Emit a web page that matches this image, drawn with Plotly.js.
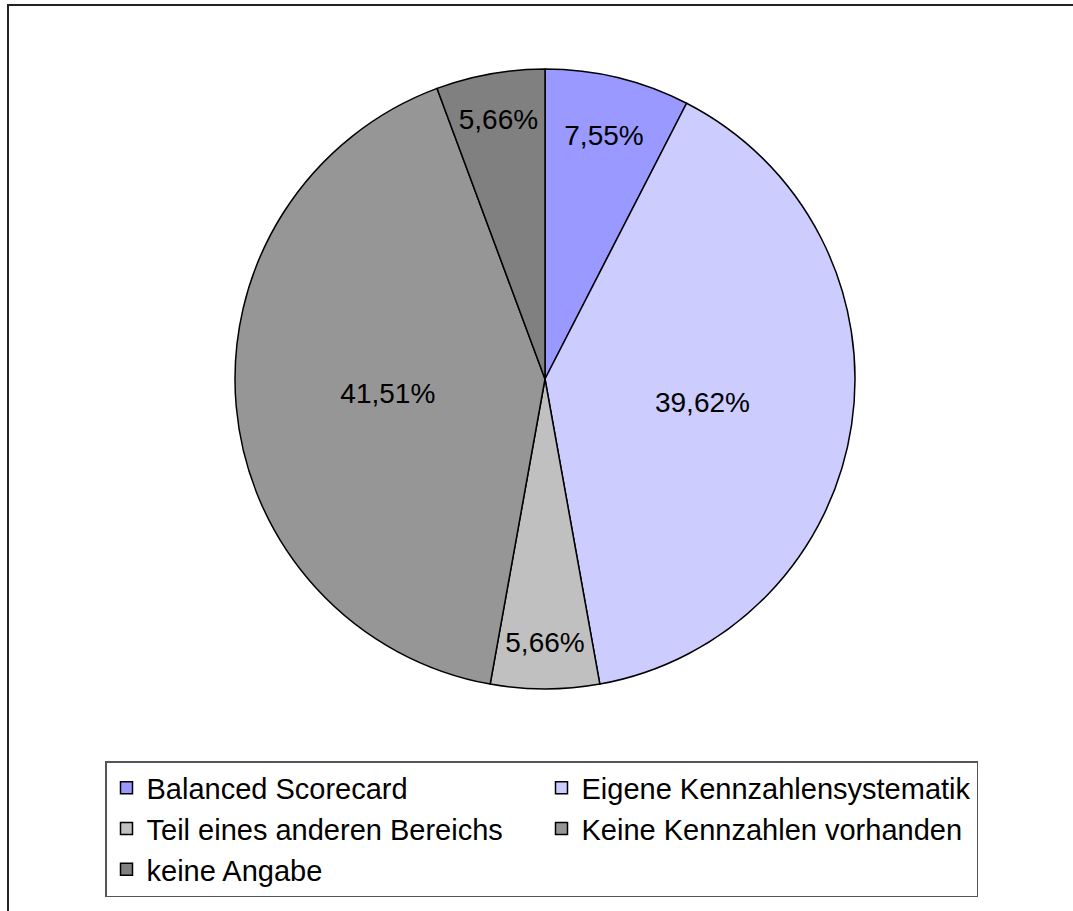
<!DOCTYPE html>
<html>
<head>
<meta charset="utf-8">
<script src="https://cdn.plot.ly/plotly-3.0.1.min.js"></script>
<style>
html,body{margin:0;padding:0;background:#fff;}
#chart{width:1073px;height:911px;}
</style>
</head>
<body>
<div id="chart"></div>
<script>
const categories = ["Balanced Scorecard", "Eigene Kennzahlensystematik", "Teil eines anderen Bereichs", "Keine Kennzahlen vorhanden", "keine Angabe"];
const shares = [7.55, 39.62, 5.66, 41.51, 5.66];
const colors = ["#9999FF", "#CCCCFF", "#C0C0C0", "#969696", "#808080"];

const W = 1073, H = 911;
const cx = 545, cy = 379, R = 310;

const trace = {
  type: "pie",
  labels: categories,
  values: shares,
  sort: false,
  direction: "clockwise",
  rotation: 0,
  marker: {colors: colors, line: {color: "#000", width: 1.5}},
  textinfo: "percent",
  texttemplate: "%{percent:.2%}",
  textposition: "inside",
  insidetextorientation: "horizontal",
  textfont: {family: "Liberation Sans, Arial, sans-serif", size: 28, color: "#000"},
  hoverinfo: "none",
  domain: {x: [(cx - R) / W, (cx + R) / W], y: [1 - (cy + R) / H, 1 - (cy - R) / H]}
};

const layout = {
  width: W, height: H,
  margin: {l: 0, r: 0, t: 0, b: 0},
  paper_bgcolor: "#fff",
  separators: ", ",
  font: {family: "Liberation Sans, Arial, sans-serif", size: 28, color: "#000"},
  showlegend: true,
  legend: {
    orientation: "h",
    x: 105 / W, xanchor: "left",
    y: 1 - 761 / H, yanchor: "top",
    entrywidth: 390, entrywidthmode: "pixels",
    bordercolor: "#555", borderwidth: 1.5,
    bgcolor: "#fff",
    font: {family: "Liberation Sans, Arial, sans-serif", size: 29, color: "#000"},
    traceorder: "normal"
  },
  shapes: [{
    type: "rect", xref: "paper", yref: "paper",
    x0: 8 / W, x1: 1.02, y0: -0.02, y1: 1 - 5 / H,
    line: {color: "#222", width: 2}, fillcolor: "rgba(0,0,0,0)", layer: "below"
  }]
};

Plotly.newPlot("chart", [trace], layout, {displayModeBar: false, staticPlot: true});
</script>
</body>
</html>
